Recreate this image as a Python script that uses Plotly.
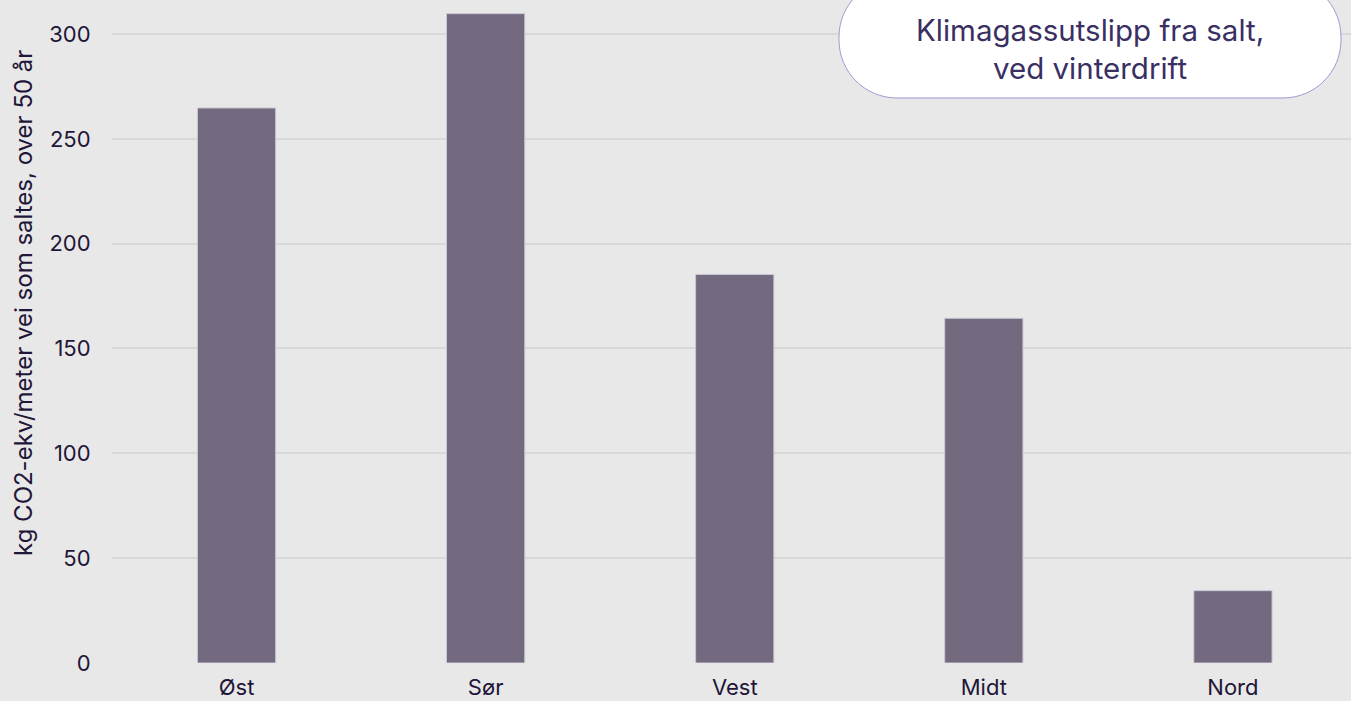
import plotly.graph_objects as go

categories = ["Øst", "Sør", "Vest", "Midt", "Nord"]
values = [264.7, 309.7, 185.3, 164.4, 34.5]
y_ticks = [0, 50, 100, 150, 200, 250, 300]
y_title = "kg CO2-ekv/meter vei som saltes, over 50 år"
box_title = "Klimagassutslipp fra salt,<br>ved vinterdrift"

W, H = 1351, 701
ML, MR, MT, MB = 112, 0, 0, 38
PW, PH = W - ML - MR, H - MT - MB

BG = "#e8e8e8"
BAR = "#736a80"
TXT = "#1f1638"
FONT = "Inter"

fig = go.Figure()
fig.add_trace(go.Bar(
    x=categories, y=values,
    marker=dict(color=BAR, line=dict(color="#c9c6d2", width=1)),
    width=0.314,
))

def px2paper(px, py):
    return (px - ML) / PW, (H - MB - py) / PH

def P(x, y):
    a, b = px2paper(x, y)
    return f"{a:.5f},{b:.5f}"

# rounded pill box for title (pixel coords -> paper)
L, R, T, B = 839, 1341, -21, 98
r = 58
k = 0.5523
path = (
    f"M {P(L + r, T)} L {P(R - r, T)} "
    f"C {P(R - r + k*r, T)} {P(R, T + r - k*r)} {P(R, T + r)} "
    f"L {P(R, B - r)} "
    f"C {P(R, B - r + k*r)} {P(R - r + k*r, B)} {P(R - r, B)} "
    f"L {P(L + r, B)} "
    f"C {P(L + r - k*r, B)} {P(L, B - r + k*r)} {P(L, B - r)} "
    f"L {P(L, T + r)} "
    f"C {P(L, T + r - k*r)} {P(L + r - k*r, T)} {P(L + r, T)} Z"
)
fig.add_shape(type="path", path=path, xref="paper", yref="paper",
              fillcolor="white", line=dict(color="#9b9ad4", width=1), layer="above")

cx, cy = px2paper((L + R) / 2, 49)
fig.add_annotation(x=cx, y=cy, xref="paper", yref="paper",
                   text=box_title, showarrow=False,
                   xanchor="center", yanchor="middle",
                   font=dict(family=FONT, size=29.5, color="#3a2f62"),
                   align="center")

tx, ty = px2paper(23, 303)
fig.add_annotation(x=tx, y=ty, xref="paper", yref="paper",
                   text=y_title, showarrow=False, textangle=-90,
                   xanchor="center", yanchor="middle",
                   font=dict(family=FONT, size=24, color=TXT))

fig.update_layout(
    width=W, height=H,
    margin=dict(l=ML, r=MR, t=MT, b=MB, pad=0),
    paper_bgcolor=BG, plot_bgcolor=BG,
    showlegend=False,
    font=dict(family=FONT, color=TXT, size=22),
    xaxis=dict(range=[-0.5, 4.474], showgrid=False, zeroline=False,
               tickfont=dict(size=22, color=TXT), ticks="outside",
               ticklen=5, tickcolor="rgba(0,0,0,0)", fixedrange=True),
    yaxis=dict(range=[0, 316.2], tickvals=y_ticks, gridcolor="#d8d8d8", gridwidth=2,
               zeroline=False, ticks="outside", ticklen=16, tickcolor="rgba(0,0,0,0)",
               tickfont=dict(size=22, color=TXT)),
)

fig.write_html("out.html", config={"displayModeBar": False},
               post_script="document.body.style.margin='0px';document.body.style.overflow='hidden';document.body.style.background='#e8e8e8';")
